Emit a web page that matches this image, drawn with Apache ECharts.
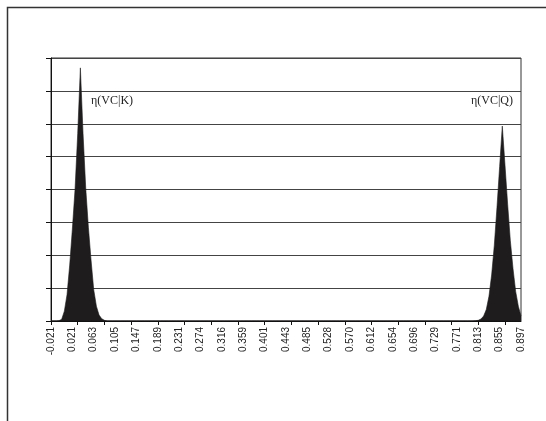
<!DOCTYPE html>
<html>
<head>
<meta charset="utf-8">
<script src="https://cdn.jsdelivr.net/npm/echarts@6/dist/echarts.min.js"></script>
<style>
  html, body { margin: 0; padding: 0; background: #fff; }
  #chart { width: 546px; height: 421px; }
</style>
</head>
<body>
<div id="chart"></div>
<script>
// Tick labels shown every 8th bin along the x axis
const tickLabels = ['-0.021','0.021','0.063','0.105','0.147','0.189','0.231','0.274','0.316','0.359','0.401','0.443','0.485','0.528','0.570','0.612','0.654','0.696','0.729','0.771','0.813','0.855','0.897'];

// Density of eta(VC|K), one value per bin (177 bins)
const etaK = [
  0,0,0,0.01,0.05,0.3,0.8,1.7,2.8,4.0,5.7,7.7,5.7,4.05,2.85,1.85,0.95,0.45,0.18,0.07,
  0.02,0,0,0,0,0,0,0,0,0,0,0,0,0,0,0,0,0,0,0,
  0,0,0,0,0,0,0,0,0,0,0,0,0,0,0,0,0,0,0,0,
  0,0,0,0,0,0,0,0,0,0,0,0,0,0,0,0,0,0,0,0,
  0,0,0,0,0,0,0,0,0,0,0,0,0,0,0,0,0,0,0,0,
  0,0,0,0,0,0,0,0,0,0,0,0,0,0,0,0,0,0,0,0,
  0,0,0,0,0,0,0,0,0,0,0,0,0,0,0,0,0,0,0,0,
  0,0,0,0,0,0,0,0,0,0,0,0,0,0,0,0,0,0,0,0,
  0,0,0,0,0,0,0,0,0,0,0,0,0,0,0,0,0
];

// Density of eta(VC|Q), one value per bin (177 bins)
const etaQ = [
  0,0,0,0,0,0,0,0,0,0,0,0,0,0,0,0,0,0,0,0,
  0,0,0,0,0,0,0,0,0,0,0,0,0,0,0,0,0,0,0,0,
  0,0,0,0,0,0,0,0,0,0,0,0,0,0,0,0,0,0,0,0,
  0,0,0,0,0,0,0,0,0,0,0,0,0,0,0,0,0,0,0,0,
  0,0,0,0,0,0,0,0,0,0,0,0,0,0,0,0,0,0,0,0,
  0,0,0,0,0,0,0,0,0,0,0,0,0,0,0,0,0,0,0,0,
  0,0,0,0,0,0,0,0,0,0,0,0,0,0,0,0,0,0,0,0,
  0,0,0,0,0,0,0,0,0,0,0,0,0,0,0,0,0,0,0,0.01,
  0.02,0.06,0.15,0.35,0.75,1.4,2.3,3.45,4.7,5.93,4.75,3.55,2.45,1.6,0.9,0.45,0.15
];

const seriesNames = ['η(VC|K)', 'η(VC|Q)'];

// Category names: a label on every 8th bin, blank elsewhere
const categories = etaK.map((_, i) => (i % 8 === 0 ? tickLabels[i / 8] : ''));

const ink = '#1e1c1d';
const chart = echarts.init(document.getElementById('chart'), null, { renderer: 'canvas' });

const areaSeries = (name, data) => ({
  name: name,
  type: 'line',
  data: data,
  symbol: 'none',
  smooth: false,
  lineStyle: { color: ink, width: 0.6 },
  areaStyle: { color: ink, opacity: 1 },
  animation: false
});

chart.setOption({
  animation: false,
  backgroundColor: '#fff',
  grid: {
    left: 51, top: 58, right: 25, bottom: 100,
    show: true, borderColor: '#333', borderWidth: 1, backgroundColor: 'transparent'
  },
  xAxis: {
    type: 'category',
    data: categories,
    boundaryGap: false,
    axisLine: { lineStyle: { color: '#111', width: 1 } },
    axisTick: { show: true, interval: 9, length: 4, lineStyle: { color: '#111' } },
    axisLabel: {
      interval: 7, rotate: 90, margin: 6,
      fontFamily: 'Liberation Sans', fontSize: 10, color: '#222'
    },
    splitLine: { show: false }
  },
  yAxis: {
    type: 'value',
    min: 0, max: 8, interval: 1,
    axisLine: { show: true, lineStyle: { color: '#111', width: 1 } },
    axisTick: { show: true, length: 5, lineStyle: { color: '#111' } },
    axisLabel: { show: false },
    splitLine: { show: true, lineStyle: { color: '#444', width: 1 } }
  },
  series: [areaSeries(seriesNames[0], etaK), areaSeries(seriesNames[1], etaQ)]
});

// Series captions anchored in data space
const pK = chart.convertToPixel({ gridIndex: 0 }, [15, 6.7]);
const pQ = chart.convertToPixel({ gridIndex: 0 }, [173, 6.7]);

chart.setOption({
  graphic: [
    {
      type: 'rect', silent: true,
      shape: { x: 7.5, y: 7.5, width: 800, height: 800 },
      style: { fill: 'none', stroke: '#333', lineWidth: 1.5 }
    },
    {
      type: 'text', x: pK[0], y: pK[1], silent: true,
      style: { text: seriesNames[0], font: '12px "Liberation Serif"', fill: '#222', textAlign: 'left', textVerticalAlign: 'middle' }
    },
    {
      type: 'text', x: pQ[0], y: pQ[1], silent: true,
      style: { text: seriesNames[1], font: '12px "Liberation Serif"', fill: '#222', textAlign: 'right', textVerticalAlign: 'middle' }
    }
  ]
});
</script>
</body>
</html>
